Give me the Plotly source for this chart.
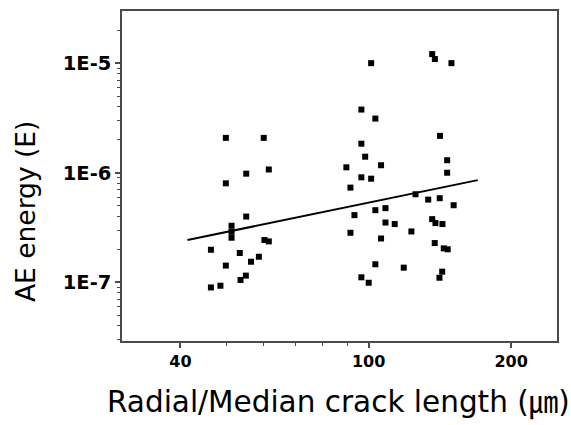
import plotly.graph_objects as go

# --- data (crack length in um, AE energy) ---
crack_len_a = [49.9, 60.0, 55.1, 61.5, 49.9, 55.1, 51.3, 51.3, 51.3, 60.2,
               61.5, 46.4, 53.4, 58.6, 56.4, 49.9, 55.0, 53.6, 48.6, 46.4]
ae_energy_a = [2.08e-6, 2.08e-6, 9.8e-7, 1.07e-6, 8.0e-7, 3.98e-7, 3.28e-7, 2.89e-7, 2.55e-7, 2.43e-7,
               2.36e-7, 1.98e-7, 1.85e-7, 1.71e-7, 1.54e-7, 1.42e-7, 1.15e-7, 1.05e-7, 9.3e-8, 8.97e-8]

crack_len_b = [101.2, 96.5, 103.3, 96.5, 98.3, 89.7, 106.2, 96.5, 101.2, 91.5, 93.3,
               103.3, 108.5, 108.5, 113.5, 123.1, 91.5, 106.2, 103.3, 118.6, 96.5, 100.0]
ae_energy_b = [1.0e-5, 3.77e-6, 3.12e-6, 1.84e-6, 1.40e-6, 1.12e-6, 1.17e-6, 9.08e-7, 8.82e-7, 7.31e-7, 4.10e-7,
               4.55e-7, 4.75e-7, 3.51e-7, 3.40e-7, 2.91e-7, 2.83e-7, 2.51e-7, 1.46e-7, 1.36e-7, 1.11e-7, 9.9e-8]

crack_len_c = [136.2, 138.0, 149.6, 141.5, 146.5, 146.5, 125.6, 133.6, 141.3,
               151.2, 136.2, 138.4, 143.2, 137.9, 144.1, 146.9, 143.0, 141.1]
ae_energy_c = [1.21e-5, 1.09e-5, 1.0e-5, 2.17e-6, 1.30e-6, 1.0e-6, 6.36e-7, 5.68e-7, 5.85e-7,
               5.05e-7, 3.77e-7, 3.47e-7, 3.40e-7, 2.28e-7, 2.04e-7, 2.0e-7, 1.25e-7, 1.10e-7]

fit_x = [41.4, 170.0]
fit_y = [2.43e-7, 8.56e-7]

x_tickvals = [40, 100, 200]
x_ticktext = ["40", "100", "200"]
x_minor = [30, 50, 60, 70, 80, 90]
y_tickvals = [1e-7, 1e-6, 1e-5]
y_ticktext = ["1E-7", "1E-6", "1E-5"]
y_minor = [3e-8, 4e-8, 5e-8, 6e-8, 7e-8, 8e-8, 9e-8,
           2e-7, 3e-7, 4e-7, 5e-7, 6e-7, 7e-7, 8e-7, 9e-7,
           2e-6, 3e-6, 4e-6, 5e-6, 6e-6, 7e-6, 8e-6, 9e-6, 2e-5]

x_title = 'Radial/Median crack length (<span style="font-family:\'Noto Sans CJK JP\'">㎛</span>)'
y_title = "AE energy (E)"

all_x = crack_len_a + crack_len_b + crack_len_c
all_y = ae_energy_a + ae_energy_b + ae_energy_c

fig = go.Figure()
fig.add_trace(go.Scatter(x=all_x, y=all_y, mode="markers",
                         marker=dict(symbol="square", size=6, color="black"),
                         showlegend=False, hoverinfo="skip"))
fig.add_trace(go.Scatter(x=fit_x, y=fit_y, mode="lines",
                         line=dict(color="black", width=2), showlegend=False,
                         hoverinfo="skip"))

axis_color = "#4a4a4a"
x_tick_font = dict(family="DejaVu Sans", size=16, color="black", weight="bold")
y_tick_font = dict(family="DejaVu Sans", size=19.5, color="black", weight="bold")

fig.update_layout(
    width=571, height=425,
    margin=dict(l=122, r=14, t=9, b=84),
    paper_bgcolor="white", plot_bgcolor="white",
    xaxis=dict(type="log", range=[1.4786, 2.398],
               tickmode="array", tickvals=x_tickvals, ticktext=x_ticktext,
               ticks="outside", ticklen=5, tickwidth=1.5, tickcolor=axis_color,
               showline=True, linecolor=axis_color, linewidth=1.5, mirror=True,
               showgrid=False, zeroline=False, tickfont=x_tick_font,
               minor=dict(tickmode="array", tickvals=x_minor, ticks="outside",
                          ticklen=3, tickwidth=1, tickcolor=axis_color, showgrid=False)),
    yaxis=dict(type="log", range=[-7.536, -4.524],
               tickmode="array", tickvals=y_tickvals, ticktext=y_ticktext,
               ticks="outside", ticklen=5, tickwidth=1.5, tickcolor=axis_color,
               showline=True, linecolor=axis_color, linewidth=1.5, mirror=True,
               showgrid=False, zeroline=False, tickfont=y_tick_font,
               minor=dict(tickmode="array", tickvals=y_minor, ticks="outside",
                          ticklen=3, tickwidth=1, tickcolor=axis_color, showgrid=False)),
    annotations=[
        dict(text=x_title, xref="paper", yref="paper", x=0.497, y=-0.177,
             xanchor="center", yanchor="middle", showarrow=False,
             font=dict(family="DejaVu Sans", size=29.5, color="black")),
        dict(text=y_title, xref="paper", yref="paper", x=-0.222, y=0.392,
             xanchor="center", yanchor="middle", showarrow=False, textangle=-90,
             font=dict(family="DejaVu Sans", size=26.5, color="black")),
    ],
)

fig.write_html("out.html", config={"displayModeBar": False},
               post_script="document.body.style.margin='0';")
